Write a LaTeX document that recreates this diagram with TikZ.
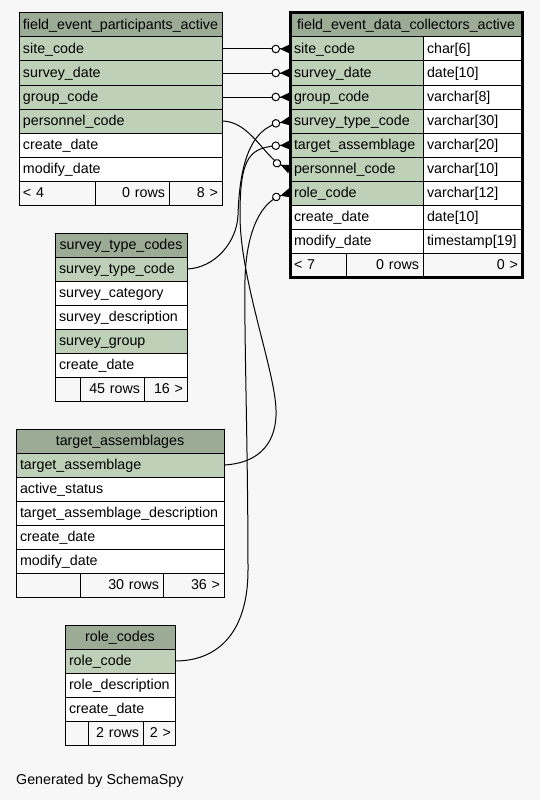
\documentclass[tikz,border=0pt]{standalone}
\usepackage{fontspec}
\setmainfont{Liberation Sans}
\usetikzlibrary{arrows.meta}
\definecolor{bggray}{HTML}{F7F7F7}
\definecolor{hdrgreen}{HTML}{9BAB96}
\definecolor{keygreen}{HTML}{BED1B8}
\newcommand{\erfont}{\fontsize{14.26pt}{17pt}\selectfont}

\begin{document}
\begin{tikzpicture}[x=1pt, y=-1pt,
  cell/.style={draw=black, line width=1pt, anchor=north west, minimum height=24pt,
    inner xsep=4pt, inner ysep=0pt, outer sep=0pt, text height=11pt,
    text depth=2pt, font=\erfont, text width=#1},
  hdr/.style={cell=#1, fill=hdrgreen, align=center},
  keycol/.style={cell=#1, fill=keygreen, align=left},
  col/.style={cell=#1, fill=white, align=left},
  footl/.style={cell=#1, fill=bggray, align=left},
  foot/.style={cell=#1, fill=bggray, align=right},
  fk/.style={line width=1pt, -{Circle[fill=white, length=8.5pt, sep=0pt]
    Triangle[reversed, length=10pt, width=9pt, sep=0pt]}},
]

% page background
\fill[bggray] (0,0) rectangle (540,800);

% field_event_participants_active
\node[hdr=195pt] (pa-hdr) at (19,13) {field\_event\_participants\_active};
\node[keycol=195pt] (pa-site) at (19,37) {site\_code};
\node[keycol=195pt] (pa-sdate) at (19,61) {survey\_date};
\node[keycol=195pt] (pa-group) at (19,85) {group\_code};
\node[keycol=195pt] (pa-pers) at (19,109) {personnel\_code};
\node[col=195pt] (pa-cdate) at (19,133) {create\_date};
\node[col=195pt] (pa-mdate) at (19,157) {modify\_date};
\node[footl=68pt] (pa-fl) at (19,181) {< 4};
\node[foot=66pt] (pa-fm) at (95,181) {0 rows};
\node[foot=45pt] (pa-fr) at (169,181) {8 >};

% field_event_data_collectors_active
\node[hdr=224pt] (dc-hdr) at (290,13) {field\_event\_data\_collectors\_active};
\node[keycol=125pt] (dc-site) at (290,37) {site\_code};
\node[keycol=125pt] (dc-sdate) at (290,61) {survey\_date};
\node[keycol=125pt] (dc-group) at (290,85) {group\_code};
\node[keycol=125pt] (dc-stype) at (290,109) {survey\_type\_code};
\node[keycol=125pt] (dc-target) at (290,133) {target\_assemblage};
\node[keycol=125pt] (dc-pers) at (290,157) {personnel\_code};
\node[keycol=125pt] (dc-role) at (290,181) {role\_code};
\node[col=125pt] (dc-cdate) at (290,205) {create\_date};
\node[col=125pt] (dc-mdate) at (290,229) {modify\_date};
\node[col=91pt] (dc-sitet) at (423,37) {char[6]};
\node[col=91pt] (dc-sdatet) at (423,61) {date[10]};
\node[col=91pt] (dc-groupt) at (423,85) {varchar[8]};
\node[col=91pt] (dc-stypet) at (423,109) {varchar[30]};
\node[col=91pt] (dc-targett) at (423,133) {varchar[20]};
\node[col=91pt] (dc-perst) at (423,157) {varchar[10]};
\node[col=91pt] (dc-rolet) at (423,181) {varchar[12]};
\node[col=91pt] (dc-cdatet) at (423,205) {date[10]};
\node[col=91pt] (dc-mdatet) at (423,229) {timestamp[19]};
\node[footl=48pt] (dc-fl) at (290,253) {< 7};
\node[foot=69pt] (dc-fm) at (346,253) {0 rows};
\node[foot=91pt] (dc-fr) at (423,253) {0 >};
\draw[line width=3pt] (dc-hdr.north west) rectangle (dc-fr.south east);

% survey_type_codes
\node[hdr=124pt] (st-hdr) at (55,233) {survey\_type\_codes};
\node[keycol=124pt] (st-code) at (55,257) {survey\_type\_code};
\node[col=124pt] (st-cat) at (55,281) {survey\_category};
\node[col=124pt] (st-desc) at (55,305) {survey\_description};
\node[keycol=124pt] (st-group) at (55,329) {survey\_group};
\node[col=124pt] (st-cdate) at (55,353) {create\_date};
\node[footl=17pt] (st-fl) at (55,377) {};
\node[foot=56pt] (st-fm) at (80,377) {45 rows};
\node[foot=35pt] (st-fr) at (144,377) {16 >};

% target_assemblages
\node[hdr=200pt] (ta-hdr) at (16,429) {target\_assemblages};
\node[keycol=200pt] (ta-target) at (16,453) {target\_assemblage};
\node[col=200pt] (ta-status) at (16,477) {active\_status};
\node[col=200pt] (ta-desc) at (16,501) {target\_assemblage\_description};
\node[col=200pt] (ta-cdate) at (16,525) {create\_date};
\node[col=200pt] (ta-mdate) at (16,549) {modify\_date};
\node[footl=56pt] (ta-fl) at (16,573) {};
\node[foot=75pt] (ta-fm) at (80,573) {30 rows};
\node[foot=53pt] (ta-fr) at (163,573) {36 >};

% role_codes
\node[hdr=102pt] (rc-hdr) at (65,625) {role\_codes};
\node[keycol=102pt] (rc-code) at (65,649) {role\_code};
\node[col=102pt] (rc-desc) at (65,673) {role\_description};
\node[col=102pt] (rc-cdate) at (65,697) {create\_date};
\node[footl=15pt] (rc-fl) at (65,721) {};
\node[foot=47pt] (rc-fm) at (88,721) {2 rows};
\node[foot=24pt] (rc-fr) at (143,721) {2 >};

% foreign keys
\draw[fk] (pa-site.east) -- (dc-site.west);
\draw[fk] (pa-sdate.east) -- (dc-sdate.west);
\draw[fk] (pa-group.east) -- (dc-group.west);
\draw[fk] (pa-pers.east) .. controls (250,121) and (265,158) .. (dc-pers.west);
\draw[fk] (st-code.east) .. controls (215,268) and (237,242) .. (238,215)
  .. controls (239.5,170) and (248,128) .. (dc-stype.west);
\draw[fk] (ta-target.east) .. controls (262,463) and (277,440) .. (276,410)
  .. controls (275,370) and (240,280) .. (240,215)
  .. controls (240,155) and (250,147) .. (dc-target.west);
\draw[fk] (rc-code.east) .. controls (220,661) and (248,630) .. (248,570)
  .. controls (248,450) and (244,330) .. (245,280)
  .. controls (246,230) and (262,201) .. (dc-role.west);

\node[font=\erfont, anchor=base west, inner sep=0pt] (gen) at (16,784)
  {Generated by SchemaSpy};
\end{tikzpicture}
\end{document}
